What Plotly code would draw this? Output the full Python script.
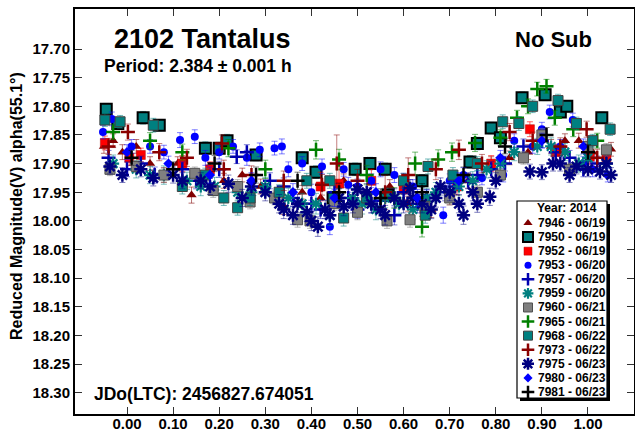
import plotly.graph_objects as go

# ---------------- data (phase, reduced magnitude, error) ----------------
s7946_ph = [-0.05, -0.03, -0.01, 0.02, 0.05, 0.08, 0.11, 0.14, 0.18, 0.21, 0.25, 0.29, 0.34, 0.38, 0.42,
            0.47, 0.52, 0.57, 0.61, 0.66, 0.70, 0.74, 0.79, 0.83, 0.87, 0.92, 0.95, 0.98, 1.01, 1.05]
s7946_mag = [17.87, 17.86, 17.88, 17.87, 17.90, 17.92, 17.90, 17.955, 17.91, 17.93, 17.92, 17.94, 17.975, 17.95, 17.96,
             17.93, 17.96, 17.94, 17.97, 17.98, 17.96, 17.93, 17.90, 17.89, 17.88, 17.87, 17.86, 17.86, 17.88, 17.875]
s7946_err = [0.012, 0.012, 0.013, 0.012, 0.012, 0.013, 0.012, 0.014, 0.012, 0.013, 0.012, 0.013, 0.014, 0.012, 0.013,
             0.012, 0.013, 0.012, 0.013, 0.014, 0.012, 0.013, 0.012, 0.012, 0.013, 0.012, 0.012, 0.013, 0.012, 0.012]

s7950_ph = [-0.045, -0.02, 0.035, 0.07, 0.17, 0.20, 0.217, 0.28, 0.38, 0.41, 0.447, 0.495, 0.527, 0.56, 0.566,
            0.64, 0.744, 0.76, 0.79, 0.81, 0.857, 0.907, 0.94, 0.954, 1.03]
s7950_mag = [17.805, 17.83, 17.82, 17.833, 17.873, 17.873, 17.86, 17.885, 17.89, 17.915, 17.96, 17.91, 17.90, 17.91, 17.955,
             17.93, 17.897, 17.865, 17.838, 17.855, 17.785, 17.78, 17.81, 17.80, 17.82]
s7950_err = [0.010, 0.010, 0.011, 0.010, 0.011, 0.010, 0.011, 0.010, 0.011, 0.011, 0.012, 0.011, 0.011, 0.011, 0.012,
             0.011, 0.011, 0.011, 0.010, 0.010, 0.010, 0.010, 0.010, 0.010, 0.010]

s7952_ph = [-0.048, 0.005, 0.03, 0.12, 0.18, 0.42, 0.46, 0.53, 0.60, 0.716, 0.79, 0.874, 0.93, 1.004, 1.04]
s7952_mag = [17.864, 17.89, 17.885, 17.90, 17.91, 17.94, 17.935, 17.93, 17.945, 17.94, 17.90, 17.84, 17.88, 17.888, 17.89]
s7952_err = [0.012, 0.013, 0.012, 0.014, 0.013, 0.025, 0.030, 0.020, 0.018, 0.015, 0.014, 0.013, 0.014, 0.013, 0.013]

s7953_ph = [-0.052, -0.033, 0.05, 0.115, 0.147, 0.20, 0.26, 0.288, 0.32, 0.336, 0.38, 0.423, 0.44, 0.47, 0.48,
            0.53, 0.58, 0.62, 0.686, 0.70, 0.77, 0.816, 0.88, 0.917, 0.967, 1.01, 1.043,
            0.01, 0.08, 0.17, 0.23, 0.35, 0.40, 0.50, 0.55, 0.60, 0.65, 0.73, 0.84, 0.90, 0.94, 0.99]
s7953_mag = [17.845, 17.822, 17.87, 17.859, 17.853, 17.88, 17.89, 17.876, 17.873, 17.87, 17.90, 17.905, 18.01, 17.91, 17.937,
             17.93, 17.92, 17.94, 17.99, 17.93, 17.925, 17.92, 17.87, 17.81, 17.824, 17.91, 17.92,
             17.87, 17.88, 17.89, 17.87, 17.91, 17.95, 17.94, 17.91, 17.93, 17.96, 17.92, 17.86, 17.84, 17.87, 17.90]
s7953_err = [0.012, 0.012, 0.012, 0.013, 0.012, 0.012, 0.013, 0.012, 0.012, 0.013, 0.012, 0.013, 0.014, 0.012, 0.013,
             0.012, 0.013, 0.012, 0.014, 0.012, 0.012, 0.012, 0.012, 0.012, 0.012, 0.013, 0.012,
             0.012, 0.012, 0.013, 0.012, 0.013, 0.014, 0.013, 0.013, 0.013, 0.014, 0.013, 0.012, 0.012, 0.012, 0.012]

s7957_ph = [-0.04, 0.0, 0.06, 0.12, 0.238, 0.26, 0.31, 0.36, 0.40, 0.45, 0.50, 0.55, 0.60, 0.65, 0.71,
            0.76, 0.82, 0.86, 0.90, 0.96, 1.02,
            0.03, 0.15, 0.20, 0.34, 0.42, 0.48, 0.53, 0.58, 0.63, 0.69, 0.74, 0.79, 0.93, 0.99]
s7957_mag = [17.89, 17.91, 17.92, 17.91, 17.888, 17.88, 17.93, 17.96, 17.97, 17.95, 17.98, 17.965, 17.95, 17.96, 17.94,
             17.92, 17.90, 17.87, 17.86, 17.89, 17.90,
             17.90, 17.93, 17.91, 17.94, 17.98, 17.96, 17.97, 17.99, 17.97, 17.95, 17.93, 17.91, 17.88, 17.91]
s7957_err = [0.013, 0.013, 0.014, 0.013, 0.012, 0.013, 0.014, 0.015, 0.014, 0.015, 0.016, 0.015, 0.014, 0.015, 0.014,
             0.013, 0.013, 0.013, 0.012, 0.013, 0.013,
             0.013, 0.014, 0.014, 0.015, 0.016, 0.016, 0.016, 0.017, 0.016, 0.015, 0.014, 0.014, 0.013, 0.013]

s7959_ph = [-0.03, 0.02, 0.08, 0.13, 0.19, 0.24, 0.30, 0.35, 0.41, 0.46, 0.51, 0.56, 0.62, 0.67, 0.72,
            0.78, 0.84, 0.89, 0.95, 1.00, 1.04,
            0.05, 0.16, 0.27, 0.38, 0.44, 0.49, 0.54, 0.59, 0.65, 0.70, 0.75, 0.81, 0.92, 0.98]
s7959_mag = [17.90, 17.91, 17.92, 17.93, 17.94, 17.95, 17.94, 17.96, 17.97, 17.96, 17.97, 17.96, 17.98, 17.95, 17.94,
             17.91, 17.88, 17.87, 17.88, 17.89, 17.90,
             17.92, 17.94, 17.95, 17.97, 17.99, 17.96, 17.98, 17.97, 17.96, 17.95, 17.93, 17.90, 17.87, 17.90]
s7959_err = [0.015, 0.015, 0.016, 0.015, 0.016, 0.017, 0.016, 0.017, 0.018, 0.017, 0.018, 0.017, 0.018, 0.017, 0.016,
             0.015, 0.015, 0.014, 0.015, 0.015, 0.015,
             0.015, 0.016, 0.017, 0.018, 0.018, 0.017, 0.018, 0.017, 0.017, 0.016, 0.016, 0.015, 0.015, 0.015]

s7960_ph = [-0.037, 0.02, 0.08, 0.147, 0.187, 0.24, 0.267, 0.32, 0.37, 0.397, 0.45, 0.50, 0.564, 0.614, 0.646,
            0.70, 0.76, 0.81, 0.86, 0.90, 0.96, 1.00, 1.04]
s7960_mag = [17.91, 17.905, 17.92, 17.917, 17.947, 17.94, 17.967, 17.96, 17.998, 18.00, 17.97, 17.985, 18.00, 17.998, 17.975,
             17.96, 17.95, 17.92, 17.89, 17.85, 17.91, 17.87, 17.876]
s7960_err = [0.011, 0.011, 0.012, 0.011, 0.012, 0.012, 0.012, 0.012, 0.013, 0.013, 0.012, 0.013, 0.013, 0.013, 0.012,
             0.012, 0.012, 0.011, 0.011, 0.011, 0.011, 0.011, 0.011]

s7965_ph = [-0.03, 0.05, 0.12, 0.22, 0.30, 0.41, 0.46, 0.52, 0.58, 0.625, 0.64, 0.675, 0.705, 0.755, 0.81,
            0.846, 0.87, 0.89, 0.91, 0.928, 0.968, 1.02]
s7965_mag = [17.845, 17.86, 17.88, 17.873, 17.91, 17.876, 17.893, 17.92, 17.96, 17.90, 18.01, 17.893, 17.88, 17.864, 17.855,
             17.82, 17.80, 17.77, 17.765, 17.82, 17.84, 17.86]
s7965_err = [0.013, 0.014, 0.014, 0.015, 0.016, 0.016, 0.018, 0.017, 0.018, 0.020, 0.018, 0.017, 0.016, 0.015, 0.014,
             0.013, 0.013, 0.012, 0.012, 0.013, 0.013, 0.013]

s7968_ph = [-0.048, -0.015, 0.057, 0.12, 0.17, 0.21, 0.24, 0.267, 0.33, 0.39, 0.44, 0.47, 0.52, 0.60, 0.647,
            0.653, 0.707, 0.76, 0.815, 0.85, 0.88, 0.935, 0.975, 1.01, 1.048]
s7968_mag = [17.824, 17.827, 17.833, 17.94, 17.92, 17.96, 17.977, 17.96, 17.95, 17.93, 17.93, 17.995, 17.96, 17.93, 17.99,
             17.905, 17.92, 17.90, 17.827, 17.83, 17.80, 17.79, 17.83, 17.86, 17.84]
s7968_err = [0.011, 0.011, 0.012, 0.013, 0.012, 0.013, 0.013, 0.013, 0.013, 0.013, 0.013, 0.014, 0.013, 0.013, 0.014,
             0.013, 0.013, 0.012, 0.012, 0.012, 0.011, 0.011, 0.011, 0.011, 0.011]

s7973_ph = [-0.04, 0.002, 0.07, 0.13, 0.206, 0.21, 0.27, 0.34, 0.423, 0.455, 0.50, 0.56, 0.61, 0.67, 0.72,
            0.77, 0.83, 0.88, 0.94, 0.997, 1.02]
s7973_mag = [17.87, 17.845, 17.88, 17.89, 17.865, 17.91, 17.92, 17.93, 17.937, 17.90, 17.93, 17.95, 17.92, 17.91, 17.876,
             17.90, 17.845, 17.86, 17.87, 17.84, 17.89]
s7973_err = [0.014, 0.014, 0.015, 0.015, 0.015, 0.016, 0.016, 0.017, 0.018, 0.050, 0.020, 0.030, 0.030, 0.018, 0.017,
             0.016, 0.015, 0.015, 0.015, 0.014, 0.015]

s7975_ph = [-0.037, -0.01, 0.03, 0.057, 0.10, 0.16, 0.22, 0.30, 0.33, 0.36, 0.39, 0.414, 0.44, 0.47, 0.50,
            0.53, 0.55, 0.58, 0.614, 0.64, 0.67, 0.70, 0.73, 0.76, 0.787, 0.874, 0.924, 0.94, 0.975, 1.00,
            1.026, 1.05,
            0.12, 0.18, 0.25, 0.27, 0.34, 0.37, 0.40, 0.43, 0.46, 0.49, 0.52, 0.56, 0.60, 0.62, 0.66,
            0.68, 0.72, 0.75, 0.80, 0.90, 0.96, 1.04]
s7975_mag = [17.905, 17.92, 17.91, 17.925, 17.92, 17.93, 17.935, 17.95, 17.97, 17.99, 17.985, 18.01, 17.99, 17.975, 17.945,
             17.97, 17.98, 17.96, 17.943, 17.97, 17.96, 17.95, 17.99, 17.97, 17.958, 17.914, 17.90, 17.90, 17.905, 17.91,
             17.914, 17.92,
             17.93, 17.94, 17.96, 17.94, 17.98, 17.97, 18.00, 17.98, 17.96, 17.97, 17.95, 17.99, 17.97, 17.96, 17.98,
             17.94, 17.97, 17.95, 17.93, 17.915, 17.92, 17.90]
s7975_err = [0.013, 0.013, 0.013, 0.014, 0.014, 0.014, 0.015, 0.015, 0.016, 0.016, 0.016, 0.017, 0.016, 0.016, 0.015,
             0.016, 0.016, 0.016, 0.015, 0.016, 0.016, 0.015, 0.016, 0.015, 0.015, 0.013, 0.013, 0.013, 0.013, 0.013,
             0.013, 0.013,
             0.014, 0.014, 0.015, 0.015, 0.016, 0.016, 0.017, 0.016, 0.016, 0.016, 0.015, 0.017, 0.016, 0.016, 0.016,
             0.015, 0.016, 0.015, 0.014, 0.013, 0.013, 0.013]

s7980_ph = [0.0, 0.09, 0.18, 0.27, 0.36, 0.45, 0.54, 0.63, 0.72, 0.81, 0.90, 0.99]
s7980_mag = [17.88, 17.90, 17.92, 17.93, 17.95, 17.96, 17.95, 17.96, 17.93, 17.89, 17.86, 17.87]
s7980_err = [0.013, 0.013, 0.014, 0.014, 0.015, 0.015, 0.015, 0.015, 0.014, 0.013, 0.013, 0.013]

s7981_ph = [0.01, 0.10, 0.19, 0.28, 0.37, 0.46, 0.55, 0.64, 0.73, 0.82, 0.91, 1.00]
s7981_mag = [17.89, 17.91, 17.90, 17.92, 17.93, 17.95, 17.96, 17.95, 17.92, 17.87, 17.85, 17.88]
s7981_err = [0.013, 0.013, 0.014, 0.014, 0.015, 0.016, 0.016, 0.015, 0.014, 0.013, 0.013, 0.013]

session_labels = ["7946 - 06/19", "7950 - 06/19", "7952 - 06/19", "7953 - 06/20", "7957 - 06/20",
                  "7959 - 06/20", "7960 - 06/21", "7965 - 06/21", "7968 - 06/22", "7973 - 06/22",
                  "7975 - 06/23", "7980 - 06/23", "7981 - 06/23"]
legend_title = "Year: 2014"

x_ticks = [0.0, 0.1, 0.2, 0.3, 0.4, 0.5, 0.6, 0.7, 0.8, 0.9, 1.0]
y_ticks = [17.70, 17.75, 17.80, 17.85, 17.90, 17.95, 18.00, 18.05, 18.10, 18.15, 18.20, 18.25, 18.30]

# ---------------- styles ----------------
FONT = "Liberation Sans, Arial, sans-serif"

styles = [
    dict(symbol="triangle-up", size=9, color="#800000", line=dict(width=0), err="rgba(128,0,0,0.55)"),
    dict(symbol="square", size=11, color="#008080", line=dict(color="black", width=2), err="rgba(0,128,128,0.55)"),
    dict(symbol="square", size=9, color="#FF0000", line=dict(color="#B00000", width=0.5), err="rgba(255,0,0,0.6)"),
    dict(symbol="circle", size=8, color="#0000FF", line=dict(width=0), err="rgba(0,0,255,0.5)"),
    dict(symbol="cross-thin-open", size=10, color="#0000B0", line=dict(color="#0000B0", width=2.5), err="rgba(0,0,176,0.5)"),
    dict(symbol="asterisk-open", size=10, color="#008080", line=dict(color="#008080", width=2.2), err="rgba(0,128,128,0.5)"),
    dict(symbol="square", size=10, color="#808080", line=dict(color="#505050", width=1), err="rgba(128,128,128,0.55)"),
    dict(symbol="cross-thin-open", size=10, color="#008000", line=dict(color="#008000", width=2.5), err="rgba(0,128,0,0.55)"),
    dict(symbol="square", size=10, color="#008080", line=dict(color="#404040", width=1), err="rgba(0,128,128,0.55)"),
    dict(symbol="cross-thin-open", size=10, color="#8B0000", line=dict(color="#8B0000", width=2.5), err="rgba(139,0,0,0.5)"),
    dict(symbol="asterisk-open", size=11, color="#000080", line=dict(color="#000080", width=2.5), err="rgba(0,0,128,0.5)"),
    dict(symbol="diamond", size=8, color="#0000FF", line=dict(width=0), err="rgba(0,0,255,0.5)"),
    dict(symbol="cross-thin-open", size=10, color="#000000", line=dict(color="#000000", width=2.5), err="rgba(0,0,0,0.5)"),
]

series = [
    (s7946_ph, s7946_mag, s7946_err), (s7950_ph, s7950_mag, s7950_err), (s7952_ph, s7952_mag, s7952_err),
    (s7953_ph, s7953_mag, s7953_err), (s7957_ph, s7957_mag, s7957_err), (s7959_ph, s7959_mag, s7959_err),
    (s7960_ph, s7960_mag, s7960_err), (s7965_ph, s7965_mag, s7965_err), (s7968_ph, s7968_mag, s7968_err),
    (s7973_ph, s7973_mag, s7973_err), (s7975_ph, s7975_mag, s7975_err), (s7980_ph, s7980_mag, s7980_err),
    (s7981_ph, s7981_mag, s7981_err),
]

fig = go.Figure()

for (ph, mag, err), st, name in zip(series, styles, session_labels):
    fig.add_trace(go.Scatter(
        x=ph, y=mag, mode="markers", name=name, showlegend=False,
        marker=dict(symbol=st["symbol"], size=st["size"], color=st["color"], line=st["line"]),
        error_y=dict(type="data", array=err, visible=True, color=st["err"], thickness=1, width=3),
        xaxis="x", yaxis="y",
    ))

# ---------------- hand-drawn legend on an overlay axis (pixel-like units) ----------------
W, H = 635, 432
ML, MR, MT, MB = 75, 1, 9, 18
PW, PH = W - ML - MR, H - MT - MB


def px(v):
    return (v - ML) / PW


def py(v):
    return (H - MB - v) / PH


LX0, LX1, LY0, LY1 = 514, 612, 198, 403
row0, row_step = 223, 14.08
mark_x, text_x = 528, 536

for i, (st, name) in enumerate(zip(styles, session_labels)):
    ms = dict(symbol=st["symbol"], size=max(st["size"] - 1, 7), color=st["color"], line=st["line"])
    if st["symbol"] == "square" and st["line"].get("width", 0) >= 2:
        ms["line"] = dict(color="black", width=2)
    fig.add_trace(go.Scatter(x=[mark_x], y=[row0 + i * row_step], mode="markers", marker=ms,
                             showlegend=False, hoverinfo="skip", xaxis="x2", yaxis="y2"))

shapes = [
    dict(type="rect", xref="x2", yref="y2", x0=520, x1=610, y0=204, y1=401,
         fillcolor="black", line=dict(width=0), layer="below"),
    dict(type="rect", xref="x2", yref="y2", x0=517, x1=607, y0=201, y1=398,
         fillcolor="white", line=dict(color="black", width=1.2), layer="below"),
]

annotations = [
    dict(text=legend_title, xref="x2", yref="y2", x=567, y=208, showarrow=False,
         xanchor="center", yanchor="middle", font=dict(family=FONT, size=12, color="black", weight="bold")),
]
for i, name in enumerate(session_labels):
    annotations.append(dict(text=name, xref="x2", yref="y2", x=text_x, y=row0 + i * row_step, showarrow=False,
                            xanchor="left", yanchor="middle",
                            font=dict(family=FONT, size=12, color="black", weight="bold")))

annotations += [
    dict(text="2102 Tantalus", xref="paper", yref="paper", x=px(202), y=py(39), showarrow=False,
         xanchor="center", yanchor="middle", font=dict(family=FONT, size=27, color="black", weight="bold")),
    dict(text="Period: 2.384 ± 0.001 h", xref="paper", yref="paper", x=px(198), y=py(66), showarrow=False,
         xanchor="center", yanchor="middle", font=dict(family=FONT, size=17.5, color="black", weight="bold")),
    dict(text="No Sub", xref="paper", yref="paper", x=px(553), y=py(40), showarrow=False,
         xanchor="center", yanchor="middle", font=dict(family=FONT, size=22, color="black", weight="bold")),
    dict(text="JDo(LTC): 2456827.674051", xref="paper", yref="paper", x=px(92), y=py(394), showarrow=False,
         xanchor="left", yanchor="middle", font=dict(family=FONT, size=17.5, color="black", weight="bold")),
    dict(text="Reduced Magnitude(V) alpha(55.1°)", xref="paper", yref="paper", x=px(17), y=py(206),
         showarrow=False, textangle=-90, xanchor="center", yanchor="middle",
         font=dict(family=FONT, size=16, color="black", weight="bold")),
]

axis_common = dict(showline=True, linewidth=2, linecolor="black", mirror="ticks", ticks="inside",
                   ticklen=7, tickwidth=1, tickcolor="#333333", showgrid=False, zeroline=False,
                   automargin=False,
                   tickfont=dict(family=FONT, size=15, color="black", weight="bold"))

fig.update_layout(
    template="none",
    width=W, height=H,
    margin=dict(l=ML, r=MR, t=MT, b=MB, pad=0, autoexpand=False),
    paper_bgcolor="white", plot_bgcolor="rgba(0,0,0,0)",
    showlegend=False,
    xaxis=dict(range=[-0.1128, 1.0998], tickvals=x_ticks, ticktext=[f"{v:.2f}" for v in x_ticks],
               domain=[0, 1], anchor="y", ticklabelstandoff=-5, **axis_common),
    yaxis=dict(range=[18.337, 17.6302], tickvals=y_ticks, ticktext=[f"{v:.2f}" for v in y_ticks],
               domain=[0, 1], anchor="x", **axis_common),
    xaxis2=dict(range=[LX0, LX1], domain=[px(LX0), px(LX1)], anchor="y2", visible=False,
                fixedrange=True, automargin=False),
    yaxis2=dict(range=[LY1, LY0], domain=[py(LY1), py(LY0)], anchor="x2", visible=False,
                fixedrange=True, automargin=False),
    shapes=shapes,
    annotations=annotations,
    font=dict(family=FONT, color="black"),
)

fig.write_html(
    "out.html",
    config={"displayModeBar": False},
    post_script="document.body.style.margin='0';document.body.style.padding='0';"
                "document.documentElement.style.overflow='hidden';",
)
